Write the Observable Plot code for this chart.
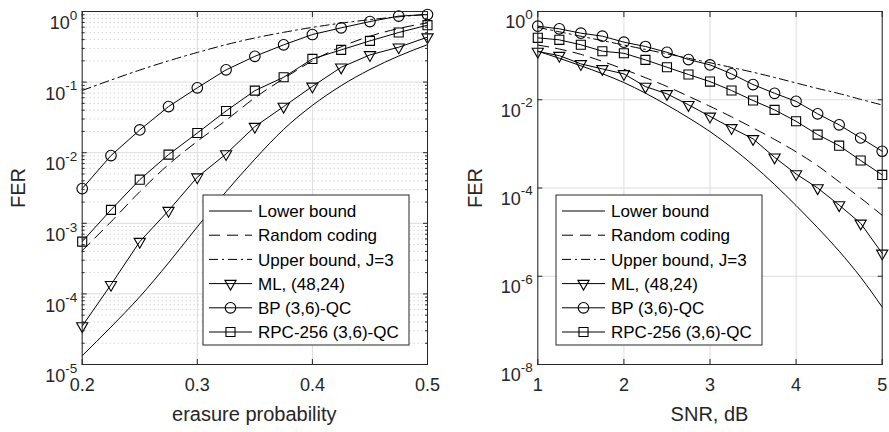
<!DOCTYPE html>
<html><head><meta charset="utf-8">
<script src="https://cdn.jsdelivr.net/npm/d3@7"></script>
<script src="https://cdn.jsdelivr.net/npm/@observablehq/plot@0.6"></script>
<style>
body{margin:0;background:#fff;}
#wrap{display:flex;width:889px;height:432px;overflow:hidden;}
#wrap svg{display:block;}
</style></head><body><div id="wrap"></div>
<script>
// ---------- Left panel: BEC, erasure probability ----------
const erasureProb = [0.2,0.225,0.25,0.275,0.3,0.325,0.35,0.375,0.4,0.425,0.45,0.475,0.5];
const lowerBoundL   = [1.33e-5,3.4e-5,9.1e-5,2.75e-4,8.9e-4,2.8e-3,8.1e-3,0.0214,0.0468,0.089,0.151,0.234,0.339];
const randomCodingL = [4.1e-4,1.05e-3,2.8e-3,6.8e-3,0.0145,0.0288,0.060,0.112,0.20,0.316,0.447,0.575,0.69];
const upperBoundL   = [0.076,0.107,0.148,0.200,0.263,0.339,0.422,0.507,0.596,0.684,0.767,0.841,0.912];
const mlL           = [3.5e-5,1.35e-4,5.5e-4,1.51e-3,4.5e-3,9.6e-3,0.0234,0.045,0.087,0.162,0.243,0.312,0.433];
const bpL           = [3.1e-3,9.1e-3,0.021,0.045,0.083,0.149,0.232,0.337,0.472,0.587,0.72,0.86,0.906];
const rpcL          = [5.5e-4,1.55e-3,4.15e-3,9.4e-3,0.019,0.039,0.0757,0.117,0.213,0.286,0.384,0.504,0.64];
const xTicksL = [0.2,0.3,0.4,0.5];
const yTicksL = [1e-5,1e-4,1e-3,1e-2,1e-1,1];

// ---------- Right panel: AWGN, SNR dB ----------
const snrDb = [1,1.25,1.5,1.75,2,2.25,2.5,2.75,3,3.25,3.5,3.75,4,4.25,4.5,4.75,5];
const lowerBoundR   = [0.126,0.0871,0.0589,0.0389,0.0245,0.0141,7.6e-3,3.9e-3,1.9e-3,8.3e-4,3.3e-4,1.2e-4,4.0e-5,1.26e-5,3.7e-6,9.5e-7,2.0e-7];
const randomCodingR = [0.174,0.141,0.107,0.0741,0.049,0.0316,0.020,0.012,7.1e-3,4.1e-3,2.3e-3,1.26e-3,6.6e-4,3.2e-4,1.38e-4,5.9e-5,2.4e-5];
const upperBoundR   = [0.437,0.347,0.275,0.219,0.174,0.138,0.110,0.087,0.069,0.054,0.042,0.032,0.024,0.018,0.0138,0.0102,7.6e-3];
const mlR           = [0.124,0.100,0.065,0.050,0.0386,0.0199,0.0136,7.7e-3,4.2e-3,2.3e-3,1.3e-3,4.96e-4,2.08e-4,1.0e-4,4.1e-5,1.58e-5,3.3e-6];
const bpR           = [0.464,0.405,0.323,0.276,0.202,0.161,0.119,0.0815,0.0617,0.0386,0.0221,0.014,9.2e-3,4.8e-3,2.7e-3,1.36e-3,6.8e-4];
const rpcR          = [0.253,0.228,0.176,0.126,0.113,0.080,0.0546,0.0373,0.0258,0.0162,9.6e-3,5.9e-3,3.25e-3,1.62e-3,9.1e-4,4.2e-4,1.98e-4];
const xTicksR = [1,2,3,4,5];
const yTicksR = [1e-8,1e-6,1e-4,1e-2,1];

const legendLabels = ["Lower bound","Random coding","Upper bound, J=3","ML, (48,24)","BP (3,6)-QC","RPC-256 (3,6)-QC"];

const ink = "#262626";
const FONT = "'Liberation Sans', Arial, Helvetica, sans-serif";
const triangleDown = {draw(ctx, size){ const r = Math.sqrt(size/Math.PI); const h = r*1.75;
  ctx.moveTo(-r, -h/3); ctx.lineTo(r, -h/3); ctx.lineTo(0, 2*h/3); ctx.closePath(); }};
const DASH = "11,7", DASHDOT = "9,4,2,4";
const markers = {tri: {symbol: triangleDown, r: 5.6}, circ: {symbol: d3.symbolCircle, r: 5.3}, sq: {symbol: d3.symbolSquare, r: 5.1}};

function minorTicks(lo, hi){ const out=[]; for(let e=lo;e<hi;e++) for(let m=2;m<=9;m++) out.push(m*Math.pow(10,e)); return out; }

function chart(cfg){
  const {x, width, ml, mr, xDomain, yDomain, xTicks, yTicks, yMinor, xFmt, bounds, coded, minorGrid, supBase} = cfg;
  const marks = [
    Plot.gridX(xTicks, {stroke:"#dcdcdc", strokeOpacity:1, strokeWidth:1}),
    Plot.gridY(yTicks, {stroke:"#dcdcdc", strokeOpacity:1, strokeWidth:1})
  ];
  if (minorGrid) marks.push(Plot.gridY(yMinor, {stroke:"#c4c4c4", strokeOpacity:1, strokeWidth:1, strokeDasharray:"1,3"}));
  bounds.forEach(b => marks.push(Plot.line(b.v, {x, y: b.v, curve:"monotone-x", stroke:"black", strokeWidth:1, strokeDasharray: b.dash})));
  coded.forEach(s => {
    marks.push(Plot.line(s.v, {x, y: s.v, stroke:"black", strokeWidth:1}));
    marks.push(Plot.dot(s.v, {x, y: s.v, symbol: markers[s.m].symbol, r: markers[s.m].r, stroke:"black", fill:"none", strokeWidth:1.1}));
  });
  marks.push(Plot.frame({stroke: ink, strokeWidth: 1}));
  const empty = () => "";
  marks.push(
    Plot.axisX({ticks: xTicks, tickSize: 0, tickPadding: 14, tickFormat: xFmt, label: null}),
    Plot.axisX({ticks: xTicks, anchor:"bottom", tickSize: 5, dy: -5, tickFormat: empty, label: null}),
    Plot.axisX({ticks: xTicks, anchor:"top", tickSize: 5, dy: 5, tickFormat: empty, label: null}),
    Plot.axisY({ticks: yTicks, tickSize: 0, tickPadding: 5, tickFormat: d => "10^" + Math.round(Math.log10(d)), label: null}),
    Plot.axisY({ticks: yTicks, anchor:"left", tickSize: 5, dx: 5, tickFormat: empty, label: null}),
    Plot.axisY({ticks: yTicks, anchor:"right", tickSize: 5, dx: -5, tickFormat: empty, label: null})
  );
  if (yMinor && minorGrid) marks.push(
    Plot.axisY({ticks: yMinor, anchor:"left", tickSize: 3, dx: 3, tickFormat: empty, label: null}),
    Plot.axisY({ticks: yMinor, anchor:"right", tickSize: 3, dx: -3, tickFormat: empty, label: null})
  );
  const svg = Plot.plot({
    width, height: 432, marginLeft: ml, marginRight: mr, marginTop: 11, marginBottom: 68,
    x: {domain: xDomain, label: null},
    y: {type: "log", domain: yDomain, label: null},
    style: {fontFamily: FONT, fontSize: "18px", color: ink, background: "white", overflow: "visible"},
    marks
  });
  d3.select(svg).selectAll("text").each(function(){
    const t = this.textContent;
    if (t === "") { this.remove(); return; }
    if (t.startsWith("10^")) {
      const e = t.slice(3);
      const s = d3.select(this);
      s.text(null).attr("dy", supBase + "px");
      s.append("tspan").text("10");
      s.append("tspan").attr("font-size", "13.5px").attr("dy", "-9.5px").text(e);
    }
  });
  return svg;
}

function addLabels(svg, cfg){
  const g = d3.select(svg).append("g").attr("font-family", FONT).attr("fill", ink);
  g.append("text").attr("transform", `translate(${cfg.ferX},188) rotate(-90)`).attr("text-anchor","middle").attr("font-size","20px").text("FER");
  g.append("text").attr("x", cfg.xLabelX).attr("y", 421).attr("text-anchor","middle").attr("font-size","20px").text(cfg.xLabel);
}

function addLegend(svg, x0, y0){
  const g = d3.select(svg).append("g").attr("font-family", FONT).attr("text-anchor", "start");
  g.append("rect").attr("x", x0).attr("y", y0).attr("width", 206).attr("height", 150).attr("fill","white").attr("stroke", ink).attr("stroke-width", 1);
  const styles = [{dash:null},{dash:DASH},{dash:DASHDOT},{dash:null,m:"tri"},{dash:null,m:"circ"},{dash:null,m:"sq"}];
  styles.forEach((st, i) => {
    const cy = y0 + 16 + i*24.2;
    g.append("line").attr("x1", x0+6).attr("x2", x0+49).attr("y1", cy).attr("y2", cy)
      .attr("stroke","black").attr("stroke-width",1).attr("stroke-dasharray", st.dash);
    if (st.m) {
      const mk = markers[st.m];
      g.append("path").attr("d", d3.symbol(mk.symbol, Math.PI*mk.r*mk.r)()).attr("transform", `translate(${x0+27.5},${cy})`)
        .attr("fill","none").attr("stroke","black").attr("stroke-width",1.1);
    }
    g.append("text").attr("x", x0+55).attr("y", cy).attr("dy","0.36em").attr("text-anchor","start")
      .attr("font-size","17px").attr("fill","black").text(legendLabels[i]);
  });
}

const wrap = document.getElementById("wrap");

const left = chart({
  x: erasureProb, width: 444, ml: 81.7, mr: 17, xDomain: [0.2, 0.5], yDomain: [1e-5, 1],
  xTicks: xTicksL, yTicks: yTicksL, yMinor: minorTicks(-5, 0), xFmt: d => d.toFixed(1), minorGrid: true, supBase: 12,
  bounds: [{v: lowerBoundL, dash: null}, {v: randomCodingL, dash: DASH}, {v: upperBoundL, dash: DASHDOT}],
  coded: [{v: mlL, m: "tri"}, {v: bpL, m: "circ"}, {v: rpcL, m: "sq"}]
});
addLabels(left, {ferX: 25, xLabelX: 254.3, xLabel: "erasure probability"});
addLegend(left, 203, 195);
wrap.appendChild(left);

const right = chart({
  x: snrDb, width: 445, ml: 93.3, mr: 7.3, xDomain: [1, 5], yDomain: [1e-8, 1],
  xTicks: xTicksR, yTicks: yTicksR, yMinor: null, xFmt: d => String(d), minorGrid: false, supBase: 11,
  bounds: [{v: lowerBoundR, dash: null}, {v: randomCodingR, dash: DASH}, {v: upperBoundR, dash: DASHDOT}],
  coded: [{v: mlR, m: "tri"}, {v: bpR, m: "circ"}, {v: rpcR, m: "sq"}]
});
addLabels(right, {ferX: 37.7, xLabelX: 265.5, xLabel: "SNR, dB"});
addLegend(right, 112, 195);
wrap.appendChild(right);
</script>
</body></html>
